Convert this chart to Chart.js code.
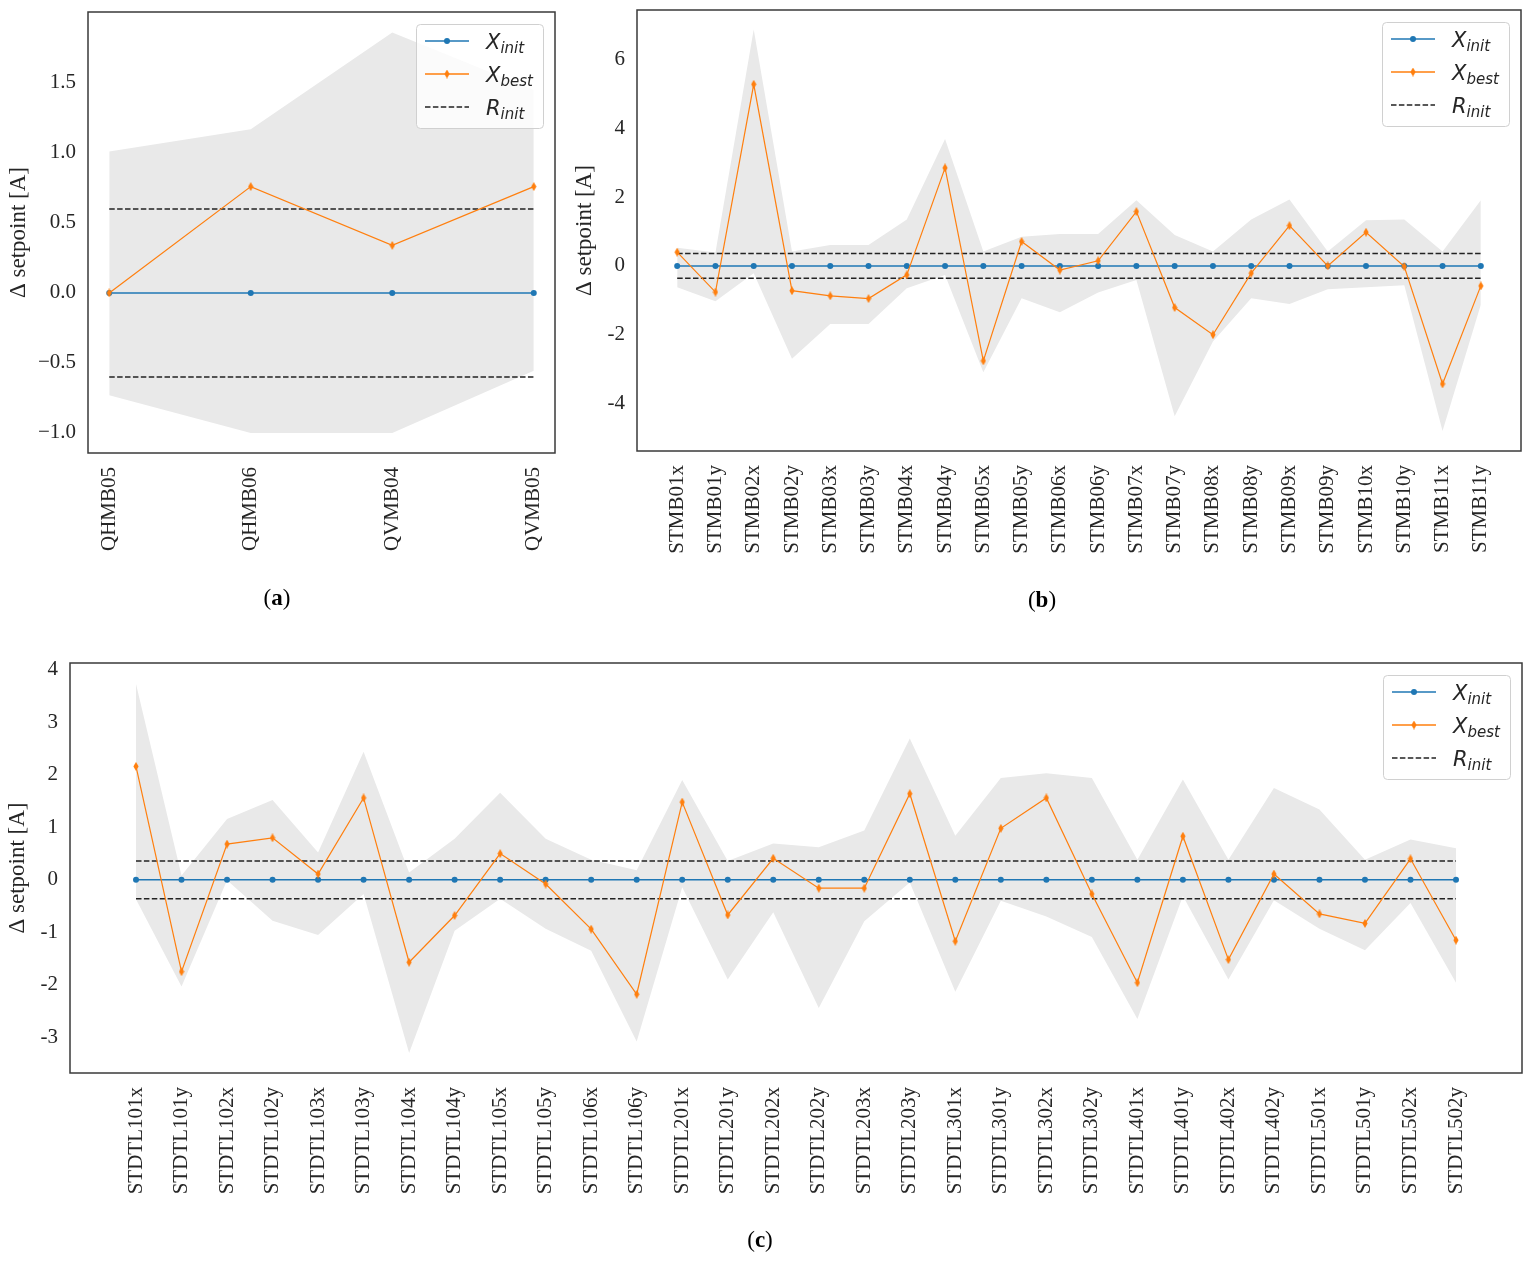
<!DOCTYPE html>
<html>
<head>
<meta charset="utf-8">
<script src="https://cdn.jsdelivr.net/npm/chart.js@4.4.1/dist/chart.umd.min.js"></script>
<style>
html,body{margin:0;padding:0;background:#fff;width:1529px;height:1261px;overflow:hidden;}
.panel{position:absolute;}
.panel canvas{display:block;}
.cap{position:absolute;font-family:"Liberation Serif",serif;font-size:23px;color:#000;transform:translate(-50%,-50%);white-space:nowrap;}
</style>
</head>
<body>
<div class="panel" style="left:0;top:0;width:570px;height:620px"><canvas id="ca" width="570" height="620"></canvas></div>
<div class="panel" style="left:570px;top:0;width:959px;height:620px"><canvas id="cb" width="959" height="620"></canvas></div>
<div class="panel" style="left:0;top:640px;width:1529px;height:621px"><canvas id="cc" width="1529" height="621"></canvas></div>
<div class="cap" style="left:277px;top:598px">(<b>a</b>)</div>
<div class="cap" style="left:1042px;top:600px">(<b>b</b>)</div>
<div class="cap" style="left:760px;top:1240px">(<b>c</b>)</div>
<script>
// ---------------- data ----------------
const labelsA = ['QHMB05','QHMB06','QVMB04','QVMB05'];
const initA  = [0, 0, 0, 0];
const bestA  = [0.0, 0.76, 0.34, 0.76];
const upperA = [1.01, 1.17, 1.86, 1.45];
const lowerA = [-0.73, -1.0, -1.0, -0.555];
const rinitA = 0.6;
const yTicksA = [-1.0, -0.5, 0.0, 0.5, 1.0, 1.5];
const yTickLabelsA = ['\u22121.0','\u22120.5','0.0','0.5','1.0','1.5'];

const labelsB = ['STMB01x','STMB01y','STMB02x','STMB02y','STMB03x','STMB03y','STMB04x','STMB04y','STMB05x','STMB05y','STMB06x','STMB06y','STMB07x','STMB07y','STMB08x','STMB08y','STMB09x','STMB09y','STMB10x','STMB10y','STMB11x','STMB11y'];
const initB  = [0,0,0,0,0,0,0,0,0,0,0,0,0,0,0,0,0,0,0,0,0,0];
const bestB  = [0.40,-0.76,5.28,-0.72,-0.87,-0.95,-0.26,2.85,-2.76,0.71,-0.12,0.15,1.58,-1.21,-2.00,-0.21,1.17,0.00,0.98,-0.02,-3.43,-0.58];
const upperB = [0.53,0.39,6.87,0.42,0.61,0.61,1.35,3.69,0.42,0.85,0.93,0.93,1.91,0.90,0.42,1.35,1.93,0.42,1.33,1.35,0.42,1.91];
const lowerB = [-0.62,-1.03,-0.21,-2.70,-1.69,-1.69,-0.65,-0.26,-3.09,-0.94,-1.35,-0.77,-0.41,-4.37,-2.20,-0.94,-1.11,-0.68,-0.62,-0.56,-4.80,-1.13];
const rinitB = 0.36;
const yTicksB = [-4, -2, 0, 2, 4, 6];
const yTickLabelsB = ['-4','-2','0','2','4','6'];

const labelsC = ['STDTL101x','STDTL101y','STDTL102x','STDTL102y','STDTL103x','STDTL103y','STDTL104x','STDTL104y','STDTL105x','STDTL105y','STDTL106x','STDTL106y','STDTL201x','STDTL201y','STDTL202x','STDTL202y','STDTL203x','STDTL203y','STDTL301x','STDTL301y','STDTL302x','STDTL302y','STDTL401x','STDTL401y','STDTL402x','STDTL402y','STDTL501x','STDTL501y','STDTL502x','STDTL502y'];
const initC  = [0,0,0,0,0,0,0,0,0,0,0,0,0,0,0,0,0,0,0,0,0,0,0,0,0,0,0,0,0,0];
const bestC  = [2.16,-1.75,0.68,0.80,0.11,1.56,-1.57,-0.68,0.50,-0.08,-0.94,-2.18,1.48,-0.67,0.41,-0.16,-0.16,1.64,-1.17,0.98,1.56,-0.27,-1.96,0.83,-1.52,0.11,-0.65,-0.83,0.40,-1.15];
const upperC = [3.73,0.08,1.16,1.52,0.52,2.44,0.14,0.78,1.66,0.78,0.38,0.18,1.90,0.36,0.69,0.62,0.94,2.69,0.84,1.94,2.03,1.94,0.38,1.91,0.38,1.75,1.34,0.38,0.77,0.60];
const lowerC = [-0.37,-2.03,-0.01,-0.78,-1.05,-0.27,-3.30,-0.97,-0.36,-0.93,-1.35,-3.08,-0.14,-1.90,-0.62,-2.44,-0.79,-0.05,-2.13,-0.40,-0.70,-1.09,-2.65,-0.31,-1.90,-0.39,-0.93,-1.34,-0.44,-1.96];
const rinitC = 0.36;
const yTicksC = [-3, -2, -1, 0, 1, 2, 3, 4];
const yTickLabelsC = ['-3','-2','-1','0','1','2','3','4'];

const yTitle = '\u0394 setpoint [A]';
const legendNames = [['X','init'], ['X','best'], ['R','init']];

// ---------------- styles ----------------
const BLUE = '#1f77b4';
const ORANGE = '#ff7f0e';
const FILL = '#e9e9e9';
const DASH = '#222222';
const TEXT = '#262626';
const SERIF = '"Liberation Serif", "Times New Roman", serif';
Chart.defaults.color = TEXT;
Chart.defaults.font.family = SERIF;

function makeDiamond() {
  const c = document.createElement('canvas');
  c.width = 6; c.height = 9;
  const g = c.getContext('2d');
  g.fillStyle = ORANGE;
  g.beginPath();
  g.moveTo(3, 0); g.lineTo(5.6, 4.5); g.lineTo(3, 9); g.lineTo(0.4, 4.5);
  g.closePath(); g.fill();
  return c;
}
const DIAMOND = makeDiamond();

const framePlugin = {
  id: 'frameAndLegend',
  afterDraw(chart) {
    const ctx = chart.ctx;
    const a = chart.chartArea;
    ctx.save();
    ctx.strokeStyle = '#3a3a3a';
    ctx.lineWidth = 1.5;
    ctx.strokeRect(a.left, a.top, a.right - a.left, a.bottom - a.top);
    // legend
    const w = 127, h = 104;
    const bx = a.right - 12 - w, by = a.top + 12;
    ctx.beginPath();
    ctx.roundRect(bx + 0.5, by + 0.5, w, h, 4);
    ctx.fillStyle = 'rgba(255,255,255,0.8)';
    ctx.fill();
    ctx.strokeStyle = '#d0d0d0';
    ctx.lineWidth = 1;
    ctx.stroke();
    const rows = [by + 17, by + 50, by + 83];
    const x0 = bx + 9, x1 = bx + 53, xm = (x0 + x1) / 2;
    // X_init
    ctx.strokeStyle = BLUE; ctx.lineWidth = 1.5; ctx.setLineDash([]);
    ctx.beginPath(); ctx.moveTo(x0, rows[0]); ctx.lineTo(x1, rows[0]); ctx.stroke();
    ctx.fillStyle = BLUE; ctx.beginPath(); ctx.arc(xm, rows[0], 3, 0, Math.PI * 2); ctx.fill();
    // X_best
    ctx.strokeStyle = ORANGE; ctx.lineWidth = 1.5;
    ctx.beginPath(); ctx.moveTo(x0, rows[1]); ctx.lineTo(x1, rows[1]); ctx.stroke();
    ctx.drawImage(DIAMOND, xm - 3, rows[1] - 4.5);
    // R_init
    ctx.strokeStyle = DASH; ctx.lineWidth = 1.5; ctx.setLineDash([5.5, 2.4]);
    ctx.beginPath(); ctx.moveTo(x0, rows[2]); ctx.lineTo(x1, rows[2]); ctx.stroke();
    ctx.setLineDash([]);
    // texts
    ctx.fillStyle = TEXT;
    ctx.textAlign = 'left';
    ctx.textBaseline = 'alphabetic';
    legendNames.forEach((nm, i) => {
      const tx = bx + 70, base = rows[i] + 8;
      ctx.font = 'italic 21px "DejaVu Sans"';
      ctx.fillText(nm[0], tx, base);
      const wx = ctx.measureText(nm[0]).width;
      ctx.font = 'italic 15px "DejaVu Sans"';
      ctx.fillText(nm[1], tx + wx, base + 3.5);
    });
    ctx.restore();
  }
};

function buildDatasets(init, best, upper, lower, rinit) {
  const n = init.length;
  const pts = arr => arr.map((v, i) => ({x: i, y: v}));
  return [
    {data: pts(best), borderColor: ORANGE, borderWidth: 1.2, pointStyle: DIAMOND, pointRadius: 4,
     pointBackgroundColor: ORANGE, pointBorderWidth: 0, order: 0, fill: false},
    {data: pts(init), borderColor: BLUE, borderWidth: 1.5, pointStyle: 'circle', pointRadius: 3,
     pointBackgroundColor: BLUE, pointBorderWidth: 0, order: 1, fill: false},
    {data: [{x: 0, y: rinit}, {x: n - 1, y: rinit}], borderColor: DASH, borderWidth: 1.5,
     borderDash: [5.5, 2.4], pointRadius: 0, order: 2, fill: false},
    {data: [{x: 0, y: -rinit}, {x: n - 1, y: -rinit}], borderColor: DASH, borderWidth: 1.5,
     borderDash: [5.5, 2.4], pointRadius: 0, order: 3, fill: false},
    {data: pts(upper), borderColor: 'transparent', borderWidth: 0, pointRadius: 0,
     fill: '+1', backgroundColor: FILL, order: 4},
    {data: pts(lower), borderColor: 'transparent', borderWidth: 0, pointRadius: 0,
     fill: false, order: 5}
  ];
}

function zeroPad(s) { s.paddingTop = 0; s.paddingBottom = 0; s.paddingLeft = 0; s.paddingRight = 0; }

function makeChart(id, cfg) {
  const n = cfg.labels.length;
  new Chart(document.getElementById(id), {
    type: 'line',
    data: {datasets: buildDatasets(cfg.init, cfg.best, cfg.upper, cfg.lower, cfg.rinit)},
    options: {
      responsive: false,
      animation: false,
      devicePixelRatio: 1,
      layout: {padding: cfg.padding},
      plugins: {legend: {display: false}, tooltip: {enabled: false}},
      elements: {line: {tension: 0}},
      scales: {
        x: {
          type: 'linear',
          min: -0.05 * (n - 1),
          max: (n - 1) * 1.05,
          grid: {display: false, drawTicks: false},
          border: {display: false},
          afterBuildTicks: s => { s.ticks = cfg.labels.map((_, i) => ({value: i})); },
          ticks: {
            autoSkip: false, minRotation: 90, maxRotation: 90, padding: 14,
            font: {family: SERIF, size: 21, lineHeight: 1}, color: TEXT,
            callback: v => cfg.labels[v]
          },
          afterFit: s => { s.height = cfg.xH; zeroPad(s); }
        },
        y: {
          type: 'linear',
          min: cfg.yMin, max: cfg.yMax,
          grid: {display: false, drawTicks: false},
          border: {display: false},
          afterBuildTicks: s => { s.ticks = cfg.yTicks.map(v => ({value: v})); },
          ticks: {
            autoSkip: false, padding: 12,
            font: {family: SERIF, size: 21, lineHeight: 1}, color: TEXT,
            callback: v => cfg.yTickLabels[cfg.yTicks.indexOf(v)]
          },
          title: {display: true, text: yTitle, color: TEXT,
                  font: {family: SERIF, size: 23}, padding: {top: cfg.titlePad, bottom: 0}},
          afterFit: s => { s.width = cfg.yW; zeroPad(s); }
        }
      }
    },
    plugins: [framePlugin]
  });
}

makeChart('ca', {labels: labelsA, init: initA, best: bestA, upper: upperA, lower: lowerA, rinit: rinitA,
  yMin: -1.143, yMax: 2.007, yTicks: yTicksA, yTickLabels: yTickLabelsA,
  padding: {left: 0, top: 12, right: 15, bottom: 0}, yW: 88, xH: 167, titlePad: 5});
makeChart('cb', {labels: labelsB, init: initB, best: bestB, upper: upperB, lower: lowerB, rinit: rinitB,
  yMin: -5.38, yMax: 7.44, yTicks: yTicksB, yTickLabels: yTickLabelsB,
  padding: {left: 0, top: 10, right: 8, bottom: 0}, yW: 67, xH: 169, titlePad: 1});
makeChart('cc', {labels: labelsC, init: initC, best: bestC, upper: upperC, lower: lowerC, rinit: rinitC,
  yMin: -3.68, yMax: 4.13, yTicks: yTicksC, yTickLabels: yTickLabelsC,
  padding: {left: 0, top: 23, right: 7, bottom: 0}, yW: 70, xH: 188, titlePad: 4});
</script>
</body>
</html>
